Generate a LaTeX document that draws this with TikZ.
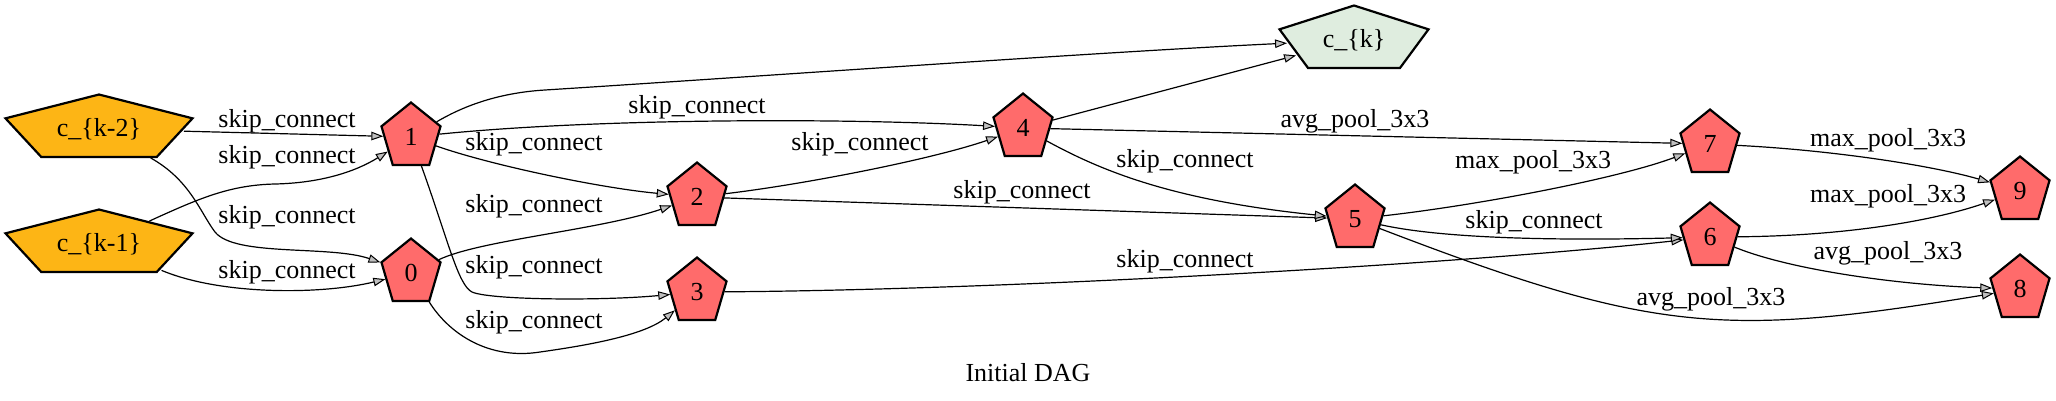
\documentclass[tikz,border=0pt]{standalone}
\usepackage{fontspec}
\setmainfont{Liberation Serif}
\usetikzlibrary{shapes.geometric,arrows.meta}
\definecolor{nodered}{HTML}{FF6B6B}
\definecolor{inyellow}{HTML}{FDB515}
\definecolor{outgreen}{HTML}{DFEDDF}
\definecolor{headgray}{HTML}{BFBFBF}
\tikzset{
  lbl/.style={font=\fontsize{26}{30}\selectfont, inner sep=0pt, anchor=base},
  pent/.style={regular polygon, regular polygon sides=5, minimum size=69pt,
    inner sep=0pt, draw=black, line width=2.2pt, transform shape,
    font=\fontsize{26}{30}\selectfont},
  edge/.style={draw=black, line width=1.2pt,
    -{Triangle[length=12pt,width=8.5pt,fill=headgray,line width=1pt]}}
}
\newcommand\opnode[4]{%
  \begin{scope}[shift={(#2,#3)}]
    \node[pent, fill=nodered, xscale=0.9] (#1) at (0,0) {\scalebox{1.111}[1]{#4}};
  \end{scope}}
\newcommand\cellnode[6]{%
  \begin{scope}[shift={(#2,#3)}]
    \node[pent, fill=#5, xscale=#6] (#1) at (0,0) {\scalebox{\fpeval{1/#6}}[1]{#4}};
  \end{scope}}
\begin{document}
\begin{tikzpicture}[x=1pt,y=-1pt]
\fill[white] (0,0) rectangle (2056,400);
\useasboundingbox (0,0) rectangle (2056,400);

% nodes
\cellnode{ck2}{99}{129}{c\_\{k-2\}}{inyellow}{2.85}
\cellnode{ck1}{99}{244}{c\_\{k-1\}}{inyellow}{2.85}
\cellnode{ck}{1354}{40}{c\_\{k\}}{outgreen}{2.27}
\opnode{n0}{411}{273}{0}
\opnode{n1}{411}{137}{1}
\opnode{n2}{697}{197}{2}
\opnode{n3}{697}{292}{3}
\opnode{n4}{1023}{128}{4}
\opnode{n5}{1355}{219}{5}
\opnode{n6}{1710}{237}{6}
\opnode{n7}{1710}{144}{7}
\opnode{n8}{2020}{289}{8}
\opnode{n9}{2020}{191}{9}

% edges
\draw[edge] (ck2) -- (n1);
\draw[edge] (ck1) .. controls (200,198) and (230,185) .. (275,184) .. controls (320,183) and (355,172) .. (n1);
\draw[edge] (ck2) .. controls (190,180) and (200,212) .. (215,232) .. controls (235,257) and (330,245) .. (n0);
\draw[edge] (ck1) .. controls (220,295) and (320,295) .. (n0);
\draw[edge] (n1) .. controls (460,108) and (495,93) .. (545,90) .. controls (750,77) and (1100,52) .. (ck);
\draw[edge] (n1) .. controls (600,118) and (850,118) .. (n4);
\draw[edge] (n1) .. controls (490,165) and (600,188) .. (n2);
\draw[edge] (n0) .. controls (480,240) and (600,230) .. (n2);
\draw[edge] (n1) .. controls (448,240) and (458,285) .. (472,292) .. controls (490,300) and (600,301) .. (n3);
\draw[edge] (n0) .. controls (450,335) and (490,360) .. (540,352) .. controls (590,345) and (645,335) .. (n3);
\draw[edge] (n2) .. controls (800,185) and (930,160) .. (n4);
\draw[edge] (n2) -- (n5);
\draw[edge] (n3) .. controls (1000,290) and (1450,265) .. (n6);
\draw[edge] (n4) -- (ck);
\draw[edge] (n4) -- (n7);
\draw[edge] (n4) .. controls (1100,170) and (1170,200) .. (n5);
\draw[edge] (n5) .. controls (1480,205) and (1620,178) .. (n7);
\draw[edge] (n5) .. controls (1440,238) and (1550,241) .. (n6);
\draw[edge] (n5) .. controls (1652,333) and (1723,338) .. (n8);
\draw[edge] (n6) .. controls (1840,236) and (1930,222) .. (n9);
\draw[edge] (n6) .. controls (1790,270) and (1900,285) .. (n8);
\draw[edge] (n7) .. controls (1830,150) and (1930,165) .. (n9);

% edge labels
\node[lbl] (l1) at (287,127) {skip\_connect};
\node[lbl] (l2) at (287,163) {skip\_connect};
\node[lbl] (l3) at (287,223) {skip\_connect};
\node[lbl] (l4) at (287,278) {skip\_connect};
\node[lbl] (l6) at (697,113) {skip\_connect};
\node[lbl] (l7) at (534,150) {skip\_connect};
\node[lbl] (l8) at (534,212) {skip\_connect};
\node[lbl] (l9) at (534,273) {skip\_connect};
\node[lbl] (l10) at (534,328) {skip\_connect};
\node[lbl] (l11) at (860,150) {skip\_connect};
\node[lbl] (l12) at (1022,198) {skip\_connect};
\node[lbl] (l16) at (1185,167) {skip\_connect};
\node[lbl] (l13) at (1185,267) {skip\_connect};
\node[lbl] (l15) at (1355,127) {avg\_pool\_3x3};
\node[lbl] (l17) at (1533,168) {max\_pool\_3x3};
\node[lbl] (l18) at (1534,228) {skip\_connect};
\node[lbl] (l19) at (1711,305) {avg\_pool\_3x3};
\node[lbl] (l22) at (1888,146) {max\_pool\_3x3};
\node[lbl] (l20) at (1888,202) {max\_pool\_3x3};
\node[lbl] (l21) at (1888,259) {avg\_pool\_3x3};

% title
\node[lbl] (title) at (1028,381) {Initial DAG};
\end{tikzpicture}
\end{document}
